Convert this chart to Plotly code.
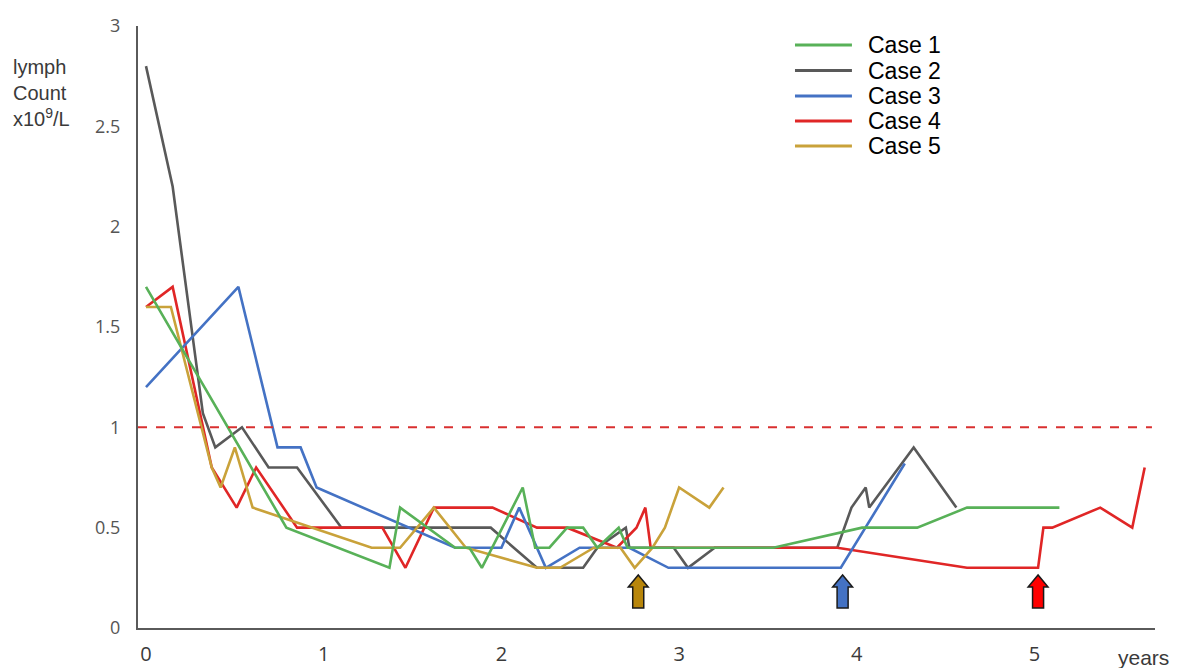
import plotly.graph_objects as go

# ---------------- data ----------------
case_names = ["Case 1", "Case 2", "Case 3", "Case 4", "Case 5"]

case1_years = [0, 0.79, 1.37, 1.43, 1.74, 1.82, 1.89, 2.12, 2.19, 2.27, 2.37, 2.46, 2.54, 2.66, 2.71, 3.53, 4.03, 4.34, 4.62, 5.14]
case1_lymph = [1.7, 0.5, 0.3, 0.6, 0.4, 0.4, 0.3, 0.7, 0.4, 0.4, 0.5, 0.5, 0.4, 0.5, 0.4, 0.4, 0.5, 0.5, 0.6, 0.6]

case2_years = [0, 0.15, 0.32, 0.39, 0.54, 0.69, 0.85, 1.1, 1.94, 2.2, 2.46, 2.54, 2.7, 2.72, 2.97, 3.05, 3.2, 3.89, 3.97, 4.05, 4.07, 4.32, 4.56]
case2_lymph = [2.8, 2.2, 1.07, 0.9, 1.0, 0.8, 0.8, 0.5, 0.5, 0.3, 0.3, 0.4, 0.5, 0.4, 0.4, 0.3, 0.4, 0.4, 0.6, 0.7, 0.6, 0.9, 0.6]

case3_years = [0, 0.52, 0.74, 0.87, 0.96, 1.74, 2.0, 2.1, 2.25, 2.44, 2.72, 2.94, 3.91, 4.27]
case3_lymph = [1.2, 1.7, 0.9, 0.9, 0.7, 0.4, 0.4, 0.6, 0.3, 0.4, 0.4, 0.3, 0.3, 0.82]

case4_years = [0, 0.15, 0.37, 0.51, 0.62, 0.85, 1.33, 1.46, 1.62, 1.95, 2.2, 2.37, 2.65, 2.76, 2.81, 2.84, 3.89, 4.62, 5.02, 5.05, 5.1, 5.37, 5.55, 5.62]
case4_lymph = [1.6, 1.7, 0.8, 0.6, 0.8, 0.5, 0.5, 0.3, 0.6, 0.6, 0.5, 0.5, 0.4, 0.5, 0.6, 0.4, 0.4, 0.3, 0.3, 0.5, 0.5, 0.6, 0.5, 0.8]

case5_years = [0, 0.14, 0.37, 0.42, 0.5, 0.6, 1.27, 1.43, 1.62, 1.8, 2.2, 2.33, 2.52, 2.67, 2.75, 2.85, 2.92, 3.0, 3.17, 3.25]
case5_lymph = [1.6, 1.6, 0.8, 0.7, 0.9, 0.6, 0.4, 0.4, 0.6, 0.4, 0.3, 0.3, 0.4, 0.4, 0.3, 0.4, 0.5, 0.7, 0.6, 0.7]

threshold = 1.0
arrow_years = [2.77, 3.92, 5.02]          # treatment markers (Case 5, Case 3, Case 4)

x_ticks = [0, 1, 2, 3, 4, 5]
y_ticks = [0, 0.5, 1, 1.5, 2, 2.5, 3]
y_tick_text = ["0", "0.5", "1", "1.5", "2", "2.5", "3"]

# ---------------- styles ----------------
colors = {
    "Case 1": "#58B158",
    "Case 2": "#595959",
    "Case 3": "#4472C4",
    "Case 4": "#E02626",
    "Case 5": "#C9A23A",
}
arrow_colors = ["#B8860B", "#4472C4", "#FF0000"]

series = {
    "Case 1": (case1_years, case1_lymph),
    "Case 2": (case2_years, case2_lymph),
    "Case 3": (case3_years, case3_lymph),
    "Case 4": (case4_years, case4_lymph),
    "Case 5": (case5_years, case5_lymph),
}
draw_order = ["Case 2", "Case 4", "Case 3", "Case 5", "Case 1"]

fig = go.Figure()
for name in draw_order:
    xs, ys = series[name]
    fig.add_trace(go.Scatter(
        x=xs, y=ys, mode="lines", name=name,
        line=dict(color=colors[name], width=2.6),
        showlegend=False, hoverinfo="x+y+name",
    ))

shapes = []
# threshold dashed line
shapes.append(dict(type="line", xref="paper", yref="y", x0=0, x1=0.997,
                   y0=threshold, y1=threshold,
                   line=dict(color="#D93030", width=2, dash="dash")))

# block arrows (data coordinates)
shaft_hw, head_hw = 0.031, 0.056
y_bot, y_head, y_top = 0.10, 0.204, 0.264
for ax, col in zip(arrow_years, arrow_colors):
    path = (f"M {ax-shaft_hw},{y_bot} L {ax+shaft_hw},{y_bot} L {ax+shaft_hw},{y_head} "
            f"L {ax+head_hw},{y_head} L {ax},{y_top} L {ax-head_hw},{y_head} "
            f"L {ax-shaft_hw},{y_head} Z")
    shapes.append(dict(type="path", xref="x", yref="y", path=path,
                       fillcolor=col, line=dict(color="#1a1a1a", width=1.5)))

# manual legend (paper coords)
legend_rows = [0.9684, 0.926, 0.8837, 0.8422, 0.8007]
annotations = []
for name, yy in zip(case_names, legend_rows):
    shapes.append(dict(type="line", xref="paper", yref="paper",
                       x0=0.646, x1=0.702, y0=yy, y1=yy,
                       line=dict(color=colors[name], width=3)))
    annotations.append(dict(xref="paper", yref="paper", x=0.716, y=yy,
                            text=name, showarrow=False, xanchor="left", yanchor="middle",
                            font=dict(family="Liberation Sans, Arial", size=23, color="#000000")))

# y-axis title
annotations.append(dict(xref="paper", yref="paper", x=-0.125, y=0.889,
                        text="lymph<br>Count<br>x10<sup>9</sup>/L", showarrow=False,
                        xanchor="left", yanchor="middle", align="left",
                        font=dict(family="Liberation Sans, Arial", size=20, color="#3a3a3a")))
# x-axis unit
annotations.append(dict(xref="paper", yref="paper", x=1.016, y=-0.026,
                        text="years", showarrow=False, xanchor="right", yanchor="top",
                        font=dict(family="Liberation Sans, Arial", size=21, color="#3a3a3a")))

fig.update_layout(
    width=1171, height=660,
    margin=dict(l=130, r=24, t=18, b=40, autoexpand=False),
    paper_bgcolor="white", plot_bgcolor="white",
    shapes=shapes, annotations=annotations,
    showlegend=False,
    xaxis=dict(range=[-0.045, 5.678], tickvals=x_ticks, ticktext=[str(t) for t in x_ticks],
               showgrid=False, zeroline=False, showline=True, linecolor="#5a5a5a", linewidth=2,
               ticks="", ticklabelstandoff=7, automargin=False,
               tickfont=dict(family="Open Sans", size=20, color="#3a3a3a")),
    yaxis=dict(range=[0, 3], tickvals=y_ticks, ticktext=y_tick_text,
               showgrid=False, zeroline=False, showline=True, linecolor="#5a5a5a", linewidth=2,
               ticks="", ticklabelstandoff=12, automargin=False,
               tickfont=dict(family="Open Sans", size=18, color="#555555")),
)

fig.write_html("out.html")
